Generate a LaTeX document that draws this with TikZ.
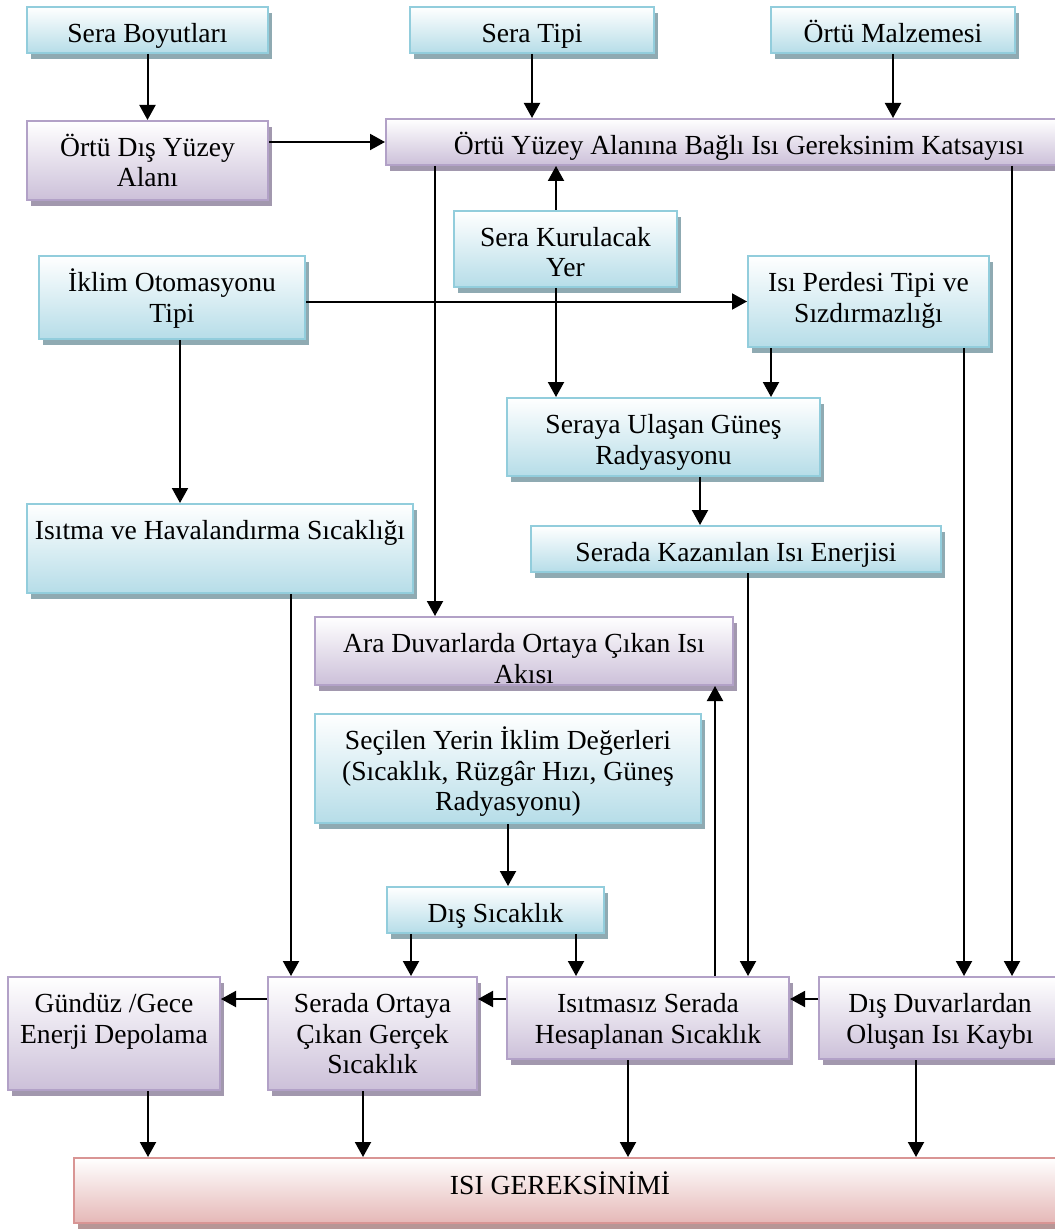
\documentclass[tikz,border=0pt]{standalone}
\usepackage{fontspec}
\setmainfont{Liberation Serif}
\usepackage{tikz}
\usetikzlibrary{arrows.meta,shadows}
\usepackage{xcolor}
\definecolor{mavicizgi}{RGB}{146,205,220}
\definecolor{mavidolgu}{RGB}{182,221,232}
\definecolor{mavigolge}{RGB}{143,170,178}
\definecolor{morcizgi}{RGB}{178,161,199}
\definecolor{mordolgu}{RGB}{204,192,217}
\definecolor{morgolge}{RGB}{162,152,174}
\definecolor{kizcizgi}{RGB}{217,149,148}
\definecolor{kizdolgu}{RGB}{229,184,183}
\definecolor{kizgolge}{RGB}{183,150,150}
\newcommand{\yazifont}{\fontsize{27.6pt}{30.5pt}\selectfont}
\tikzset{
  kutu/.style={inner sep=0pt,line width=2pt},
  mavi/.style={kutu,draw=mavicizgi,top color=white,bottom color=mavidolgu,
    drop shadow={shadow xshift=3.5pt,shadow yshift=-6pt,fill=mavigolge,opacity=1}},
  mor/.style={kutu,draw=morcizgi,top color=white,bottom color=mordolgu,
    drop shadow={shadow xshift=3.5pt,shadow yshift=-6pt,fill=morgolge,opacity=1}},
  kiz/.style={kutu,draw=kizcizgi,top color=white,bottom color=kizdolgu,
    drop shadow={shadow xshift=3.5pt,shadow yshift=-6pt,fill=kizgolge,opacity=1}},
  yazi/.style={anchor=base,inner sep=0pt,text width=640pt,align=flush center,font=\yazifont},
  ok/.style={->,line width=2pt}
}

\begin{document}
\begin{tikzpicture}[x=1pt,y=-1pt,>={Triangle[length=15pt,width=16pt]}]
\useasboundingbox (0,0) rectangle (1054,1230);
% kutular
\node[mavi,minimum width=241pt,minimum height=46pt] (boyut) at (147.5,30) {};
\node[mavi,minimum width=244pt,minimum height=46pt] (tip) at (532,30) {};
\node[mavi,minimum width=244pt,minimum height=46pt] (malzeme) at (893,30) {};
\node[mor,minimum width=241pt,minimum height=79pt] (disyuzey) at (147.5,160.5) {};
\node[mor,minimum width=706pt,minimum height=46pt] (katsayi) at (739,142) {};
\node[mavi,minimum width=223pt,minimum height=76pt] (kurulacak) at (565.5,249) {};
\node[mavi,minimum width=266pt,minimum height=83pt] (iklimoto) at (172,297.5) {};
\node[mavi,minimum width=241pt,minimum height=91pt] (perde) at (868.5,301.5) {};
\node[mavi,minimum width=313pt,minimum height=78pt] (seraya) at (663.5,437) {};
\node[mavi,minimum width=386pt,minimum height=89pt] (isitmahav) at (220,548.5) {};
\node[mavi,minimum width=410pt,minimum height=46pt] (kazanilan) at (736,549) {};
\node[mor,minimum width=418pt,minimum height=68pt] (araduvar) at (524,651) {};
\node[mavi,minimum width=386pt,minimum height=109pt] (secilen) at (508,768.5) {};
\node[mavi,minimum width=217pt,minimum height=46pt] (dissicak) at (495.5,910) {};
\node[mor,minimum width=212pt,minimum height=113pt] (gunduz) at (114,1033.5) {};
\node[mor,minimum width=209pt,minimum height=113pt] (gercek) at (372.5,1033.5) {};
\node[mor,minimum width=282pt,minimum height=82pt] (isitmasiz) at (648,1018) {};
\node[mor,minimum width=242pt,minimum height=82pt] (disduvar) at (940,1018) {};
\node[kiz,minimum width=996pt,minimum height=65pt] (isi) at (572,1190.5) {};
% yazilar
\node[yazi] (boyutY) at ([yshift=-36.5pt]boyut.north) {Sera Boyutları};
\node[yazi] (tipY) at ([yshift=-36.5pt]tip.north) {Sera Tipi};
\node[yazi] (malzemeY) at ([yshift=-36.5pt]malzeme.north) {Örtü Malzemesi};
\node[yazi] (disyuzeyY) at ([yshift=-36.5pt]disyuzey.north) {Örtü Dış Yüzey\\Alanı};
\node[yazi] (katsayiY) at ([yshift=-36.5pt]katsayi.north) {Örtü Yüzey Alanına Bağlı Isı Gereksinim Katsayısı};
\node[yazi] (kurulacakY) at ([yshift=-36.5pt]kurulacak.north) {Sera Kurulacak\\Yer};
\node[yazi] (iklimotoY) at ([yshift=-36.5pt]iklimoto.north) {İklim Otomasyonu\\Tipi};
\node[yazi] (perdeY) at ([yshift=-36.5pt]perde.north) {Isı Perdesi Tipi ve\\Sızdırmazlığı};
\node[yazi] (serayaY) at ([yshift=-36.5pt]seraya.north) {Seraya Ulaşan Güneş\\Radyasyonu};
\node[yazi] (isitmahavY) at ([yshift=-36.5pt]isitmahav.north) {Isıtma ve Havalandırma Sıcaklığı};
\node[yazi] (kazanilanY) at ([yshift=-36.5pt]kazanilan.north) {Serada Kazanılan Isı Enerjisi};
\node[yazi] (araduvarY) at ([yshift=-36.5pt]araduvar.north) {Ara Duvarlarda Ortaya Çıkan Isı\\Akısı};
\node[yazi] (secilenY) at ([yshift=-36.5pt]secilen.north) {Seçilen Yerin İklim Değerleri\\(Sıcaklık, Rüzgâr Hızı, Güneş\\Radyasyonu)};
\node[yazi] (dissicakY) at ([yshift=-36.5pt]dissicak.north) {Dış Sıcaklık};
\node[yazi] (gunduzY) at ([yshift=-36.5pt]gunduz.north) {Gündüz /Gece\\Enerji Depolama};
\node[yazi] (gercekY) at ([yshift=-36.5pt]gercek.north) {Serada Ortaya\\Çıkan Gerçek\\Sıcaklık};
\node[yazi] (isitmasizY) at ([yshift=-36.5pt]isitmasiz.north) {Isıtmasız Serada\\Hesaplanan Sıcaklık};
\node[yazi] (disduvarY) at ([yshift=-36.5pt]disduvar.north) {Dış Duvarlardan\\Oluşan Isı Kaybı};
\node[yazi] (isiY) at ([xshift=-12pt,yshift=-37pt]isi.north) {ISI GEREKSİNİMİ};
% baglanti noktalari
\coordinate (k1) at ([xshift=-9.5pt]kurulacak.north);
\coordinate (k2) at ([xshift=-9.5pt]kurulacak.south);
\coordinate (k3) at ([xshift=50pt]katsayi.south west);
\coordinate (i1) at ([xshift=8pt]iklimoto.south);
\coordinate (p1) at ([xshift=24pt]perde.south west);
\coordinate (s1) at ([xshift=36.5pt]seraya.south);
\coordinate (g1) at ([xshift=24pt]gercek.north west);
\coordinate (g2) at ([xshift=144pt]gercek.north west);
\coordinate (h0) at ([xshift=70pt]isitmasiz.north west);
\coordinate (h1) at ([xshift=67pt]isitmasiz.north);
\coordinate (h2) at ([xshift=100pt]isitmasiz.north);
\coordinate (d1) at ([xshift=24pt]disduvar.north);
\coordinate (d2) at ([xshift=72pt]disduvar.north);
\coordinate (a1) at ([xshift=34pt]gunduz.south);
\coordinate (a2) at ([xshift=-9.5pt]gercek.south);
\coordinate (a3) at ([xshift=-20pt]isitmasiz.south);
\coordinate (a4) at ([xshift=-24pt]disduvar.south);
% oklar
\draw[ok] (boyut) -- (disyuzey);
\draw[ok] (tip) -- (tip |- katsayi.north);
\draw[ok] (malzeme) -- (malzeme |- katsayi.north);
\draw[ok] (disyuzey.east |- katsayi) -- (katsayi.west);
\draw[ok] (k1) -- (k1 |- katsayi.south);
\draw[ok] (k2) -- (k2 |- seraya.north);
\draw[ok] (k3) -- (k3 |- araduvar.north);
\draw[ok] (d2 |- katsayi.south) -- (d2);
\draw[ok] (iklimoto.east |- perde) -- (perde.west);
\draw[ok] (i1) -- (i1 |- isitmahav.north);
\draw[ok] (p1) -- (p1 |- seraya.north);
\draw[ok] (d1 |- perde.south) -- (d1);
\draw[ok] (s1) -- (s1 |- kazanilan.north);
\draw[ok] (g1 |- isitmahav.south) -- (g1);
\draw[ok] (h2 |- kazanilan.south) -- (h2);
\draw[ok] (h1) -- (h1 |- araduvar.south);
\draw[ok] (secilen) -- (secilen |- dissicak.north);
\draw[ok] (g2 |- dissicak.south) -- (g2);
\draw[ok] (h0 |- dissicak.south) -- (h0);
\draw[ok] ([yshift=-23pt]gercek.north west) -- ([yshift=-23pt]gunduz.north east);
\draw[ok] ([yshift=-23pt]isitmasiz.north west) -- ([yshift=-23pt]gercek.north east);
\draw[ok] ([yshift=-23pt]disduvar.north west) -- ([yshift=-23pt]isitmasiz.north east);
\draw[ok] (a1) -- (a1 |- isi.north);
\draw[ok] (a2) -- (a2 |- isi.north);
\draw[ok] (a3) -- (a3 |- isi.north);
\draw[ok] (a4) -- (a4 |- isi.north);
\end{tikzpicture}
\end{document}
